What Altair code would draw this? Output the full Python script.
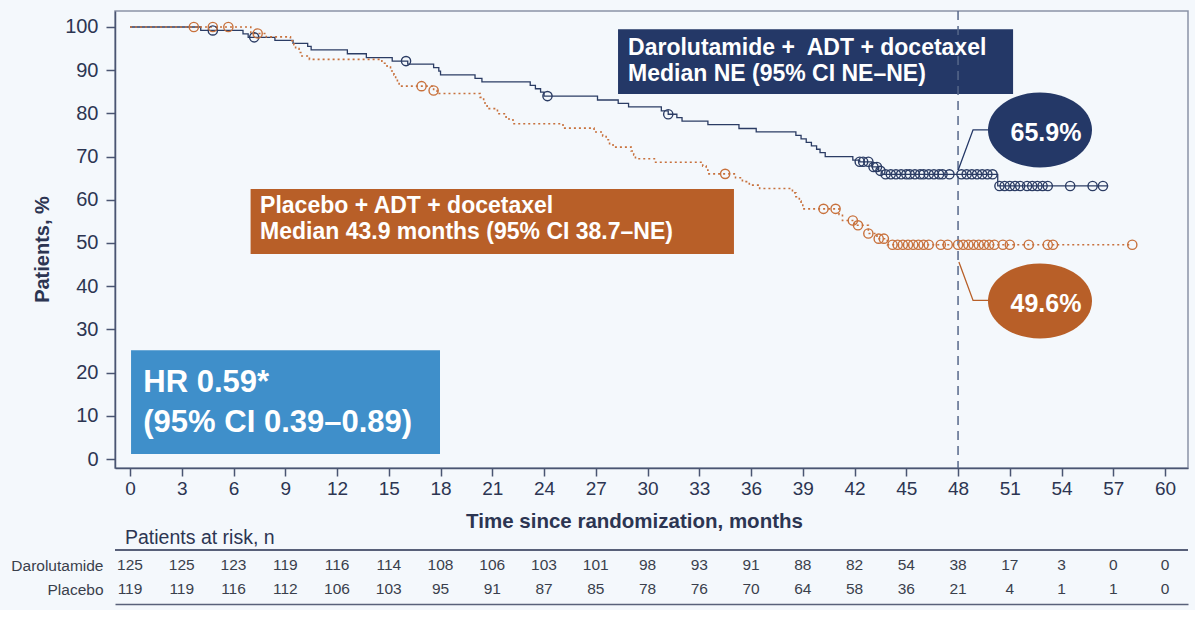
import altair as alt
import pandas as pd

# Kaplan-Meier steps: time (months) and event-free patients (%)
daro_t = [0, 4.1, 6.55, 6.85, 8.4, 9.45, 10.3, 10.5, 12.6, 13.7, 15.2, 16.1, 17.6, 17.9, 18.0,
          20.0, 20.4, 23.2, 23.5, 23.8, 24.0, 27.1, 28.3, 28.9, 30.8, 31.2, 31.7, 32.0, 33.5,
          35.3, 36.3, 38.6, 38.9, 39.2, 39.5, 39.8, 40.0, 40.3, 41.9, 42.3, 43.0, 43.4, 43.6,
          50.3, 56.7]
daro_s = [100, 99.2, 98.4, 97.6, 96.9, 96.2, 95.5, 94.7, 93.8, 92.9, 92.1, 91.4, 90.6, 89.8, 88.9,
          88.1, 87.3, 86.5, 85.7, 84.9, 84.0, 83.1, 82.3, 81.5, 80.6, 79.8, 79.0, 78.2, 77.4,
          76.5, 75.7, 74.9, 74.1, 73.3, 72.5, 71.7, 70.9, 70.0, 69.2, 68.8, 67.6, 66.7, 65.9,
          63.2, 63.2]

plac_t = [0, 7.0, 7.9, 9.3, 9.5, 9.6, 9.8, 9.9, 10.4, 14.6, 14.9, 15.1, 15.3, 15.4, 15.5, 15.6,
          17.6, 17.8, 20.3, 20.5, 20.7, 21.3, 21.8, 22.2, 25.1, 26.9, 27.4, 27.6, 27.8, 28.0,
          29.05, 29.2, 29.3, 30.4, 33.2, 33.4, 33.5, 35.1, 35.5, 35.9, 36.5, 38.4, 38.6, 38.8,
          38.9, 39.0, 41.1, 41.3, 42.0, 42.8, 43.3, 43.9, 58.1]
plac_s = [100, 98.5, 97.7, 96.8, 95.9, 95.0, 94.1, 93.3, 92.5, 91.6, 90.7, 89.8, 88.9, 88.0, 87.2, 86.3,
          85.3, 84.6, 83.7, 82.4, 81.1, 79.9, 78.7, 77.6, 76.6, 75.7, 74.8, 73.9, 73.0, 72.2,
          71.3, 70.4, 69.5, 68.7, 67.8, 66.9, 66.0, 65.1, 64.2, 63.4, 62.6, 61.6, 60.7, 59.7,
          58.8, 57.9, 56.6, 55.2, 54.1, 52.2, 51.0, 49.6, 49.6]

# Censoring times (months)
daro_cens = [4.8, 7.2, 16.0, 24.2, 31.2, 42.3, 42.5, 42.8, 43.1, 43.3, 43.5, 43.8, 44.1, 44.4,
             44.7, 45.0, 45.2, 45.5, 45.8, 46.0, 46.3, 46.6, 46.9, 47.1, 47.5, 48.2, 48.5, 48.8,
             49.1, 49.4, 49.7, 50.0, 50.4, 50.7, 51.0, 51.3, 51.6, 52.0, 52.3, 52.6, 52.9, 53.2,
             54.5, 55.8, 56.4]
plac_cens = [3.7, 4.8, 5.7, 7.4, 16.9, 17.6, 34.5, 40.2, 40.9, 41.9, 42.2, 42.8, 43.4, 43.7,
             44.2, 44.5, 44.8, 45.1, 45.4, 45.7, 46.0, 46.3, 47.0, 47.4, 48.0, 48.3, 48.6, 48.9,
             49.2, 49.5, 49.8, 50.1, 50.6, 51.0, 52.1, 53.2, 53.5, 58.1]

# Numbers at risk
risk_t = list(range(0, 61, 3))
risk_daro = [125, 125, 123, 119, 116, 114, 108, 106, 103, 101, 98, 93, 91, 88, 82, 54, 38, 17, 3, 0, 0]
risk_plac = [119, 119, 116, 112, 106, 103, 95, 91, 87, 85, 78, 76, 70, 64, 58, 36, 21, 4, 1, 1, 0]

landmark = 48
daro_pct = 65.9
plac_pct = 49.6

BG = "#f4f8fc"
NAVY = "#243867"
NAVY_LINE = "#2b3c64"
ORANGE = "#b85f28"
ORANGE_LINE = "#c8713c"
BLUE = "#3f8fca"
AXC = "#4a5572"
TXT = "#2c3552"
FONT = "Liberation Sans"

W, H = 1073, 457
xs = alt.Scale(domain=[-0.87, 61.33], nice=False, zero=False)
ys = alt.Scale(domain=[-2.08, 103.7], nice=False, zero=False)

x_axis = alt.Axis(values=list(range(0, 61, 3)), title="Time since randomization, months", grid=False,
                  tickSize=8, tickColor=AXC, tickWidth=1.5, domainColor=AXC, domainWidth=1.5,
                  labelFontSize=19, labelColor=TXT, labelPadding=3, labelFlush=False,
                  titleFontSize=20.5, titleFontWeight="bold", titleColor=TXT,
                  titleX=519, titleY=53, titleBaseline="middle", titleAlign="center")
y_axis = alt.Axis(values=list(range(0, 101, 10)), title="Patients, %", grid=False,
                  tickSize=9, tickColor=AXC, tickWidth=1.5, domainColor=AXC, domainWidth=1.5,
                  labelFontSize=20, labelColor=TXT, labelPadding=8, labelFlush=False,
                  titleFontSize=20, titleFontWeight="bold", titleColor=TXT,
                  titleX=-73, titleY=238, titleBaseline="middle", titleAlign="center", titleAngle=270)


def surv_at(ts, ss, t):
    val = ss[0]
    for ti, si in zip(ts, ss):
        if ti <= t:
            val = si
    return val


def X(field):
    return alt.X(field, type="quantitative", scale=xs, axis=x_axis)


def Y(field):
    return alt.Y(field, type="quantitative", scale=ys, axis=y_axis)


daro_df = pd.DataFrame({"t": daro_t, "s": daro_s})
plac_df = pd.DataFrame({"t": plac_t, "s": plac_s})
daro_c = pd.DataFrame({"t": daro_cens, "s": [surv_at(daro_t, daro_s, c) for c in daro_cens]})
plac_c = pd.DataFrame({"t": plac_cens, "s": [surv_at(plac_t, plac_s, c) for c in plac_cens]})

daro_line = alt.Chart(daro_df).mark_line(interpolate="step-after", color=NAVY_LINE, strokeWidth=1.3).encode(
    x=X("t"), y=Y("s"))
plac_line = alt.Chart(plac_df).mark_line(interpolate="step-after", color=ORANGE_LINE, strokeWidth=1.6,
                                         strokeDash=[2, 3]).encode(x=X("t"), y=Y("s"))
daro_pts = alt.Chart(daro_c).mark_point(shape="circle", size=85, filled=False, color=NAVY_LINE,
                                        strokeWidth=1.4, opacity=1).encode(x=X("t"), y=Y("s"))
plac_pts = alt.Chart(plac_c).mark_point(shape="circle", size=85, filled=False, color=ORANGE_LINE,
                                        strokeWidth=1.4, opacity=1).encode(x=X("t"), y=Y("s"))

vline = alt.Chart(pd.DataFrame({"t": [landmark]})).mark_rule(
    color="#56678a", strokeWidth=1.5, strokeDash=[9, 6]).encode(x=X("t"))

# Annotation boxes
boxes = pd.DataFrame({
    "t": [28.29, 6.99, 0.06], "t2": [51.19, 35.01, 17.97],
    "s": [84.5, 47.45, 1.16], "s2": [99.5, 62.5, 25.16],
    "c": ["daro", "plac", "hr"]})
box_layer = alt.Chart(boxes).mark_rect().encode(
    x=X("t"), x2="t2", y=Y("s"), y2="s2",
    color=alt.Color("c:N", scale=alt.Scale(domain=["daro", "plac", "hr"], range=[NAVY, ORANGE, BLUE]),
                    legend=None))

box_text = pd.DataFrame({
    "t": [28.87, 28.87, 7.54, 7.54],
    "s": [95.1, 89.1, 58.56, 52.55],
    "txt": ["Darolutamide +\u00a0 ADT + docetaxel", "Median NE (95% CI NE\u2013NE)",
            "Placebo + ADT + docetaxel", "Median 43.9 months (95% CI 38.7\u2013NE)"]})
box_text_layer = alt.Chart(box_text).mark_text(
    align="left", baseline="middle", fontSize=23, fontWeight="bold", color="white", font=FONT
).encode(x=X("t"), y=Y("s"), text="txt:N")

hr_text = pd.DataFrame({"t": [0.77, 0.77], "s": [17.59, 8.33],
                        "txt": ["HR 0.59*", "(95% CI 0.39\u20130.89)"]})
hr_text_layer = alt.Chart(hr_text).mark_text(
    align="left", baseline="middle", fontSize=31, fontWeight="bold", color="white", font=FONT
).encode(x=X("t"), y=Y("s"), text="txt:N")

# Leader lines from the landmark to the callouts
leaders = pd.DataFrame({
    "t": [48.01, 48.87, 49.8, 48.05, 48.87, 49.8],
    "s": [66.9, 76.2, 76.2, 45.6, 36.7, 36.7],
    "o": [0, 1, 2, 0, 1, 2],
    "g": ["daro"] * 3 + ["plac"] * 3})
leader_layer = alt.Chart(leaders).mark_line(strokeWidth=1.3).encode(
    x=X("t"), y=Y("s"), order="o:Q", detail="g:N",
    color=alt.Color("g:N", scale=alt.Scale(domain=["daro", "plac"], range=[NAVY_LINE, "#c27a52"]),
                    legend=None))

ELLIPSE = "M -1 0 A 1 0.72 0 1 1 1 0 A 1 0.72 0 1 1 -1 0 Z"
callouts = pd.DataFrame({"t": [52.75, 52.75], "s": [76.16, 36.57], "g": ["daro", "plac"],
                         "txt": [f"{daro_pct}%", f"{plac_pct}%"], "ts": [75.4, 35.9]})
ellipse_layer = alt.Chart(callouts).mark_point(shape=ELLIPSE, size=104 * 104, filled=True, opacity=1).encode(
    x=X("t"), y=Y("s"),
    color=alt.Color("g:N", scale=alt.Scale(domain=["daro", "plac"], range=[NAVY, ORANGE]), legend=None))
callout_text = alt.Chart(callouts).mark_text(
    align="center", baseline="middle", fontSize=25, fontWeight="bold", color="white", font=FONT, dx=6
).encode(x=X("t"), y=Y("ts"), text="txt:N")

top = alt.layer(
    daro_line, box_layer, vline, plac_line, daro_pts, plac_pts, box_text_layer, hr_text_layer,
    leader_layer, ellipse_layer, callout_text
).properties(width=W, height=H, view=alt.ViewBackground(stroke="#8a93a6", strokeWidth=1.5))

# Numbers-at-risk table
rows = ["Darolutamide", "Placebo"]
risk_df = pd.DataFrame({
    "t": risk_t + risk_t,
    "n": risk_daro + risk_plac,
    "arm": [rows[0]] * len(risk_t) + [rows[1]] * len(risk_t)})

risk_text = alt.Chart(risk_df).mark_text(fontSize=15.5, color="#3a3f4c", font=FONT, baseline="middle").encode(
    x=alt.X("t:Q", scale=xs, axis=alt.Axis(labels=False, ticks=False, tickSize=0, grid=False, title=None,
                                           domainColor="#59617a", domainWidth=1.5)),
    y=alt.Y("arm:N", scale=alt.Scale(domain=rows, padding=0.625),
            axis=alt.Axis(title=None, domain=False, ticks=False, tickSize=0, labelFontSize=15.5,
                          labelColor="#3a3f4c", labelPadding=12, labelFont=FONT)),
    text="n:Q")
top_rule = alt.Chart(risk_df).mark_rule(color="#59617a", strokeWidth=1.5).encode(
    y=alt.value(0), x=alt.value(0), x2=alt.value(W))

bottom = alt.layer(risk_text, top_rule).properties(
    width=W, height=54,
    view=alt.ViewBackground(stroke="transparent"),
    title=alt.TitleParams("Patients at risk, n", anchor="start", frame="group", dx=10, dy=-1, fontSize=19.5,
                          fontWeight="normal", color=TXT, font=FONT, offset=0))

chart = alt.vconcat(top, bottom, spacing=-6).properties(
    padding={"left": 10, "top": 9, "right": 5, "bottom": 5}
).configure(background=BG, font=FONT)

chart.save("out.html", embed_options={"renderer": "svg", "actions": False})
